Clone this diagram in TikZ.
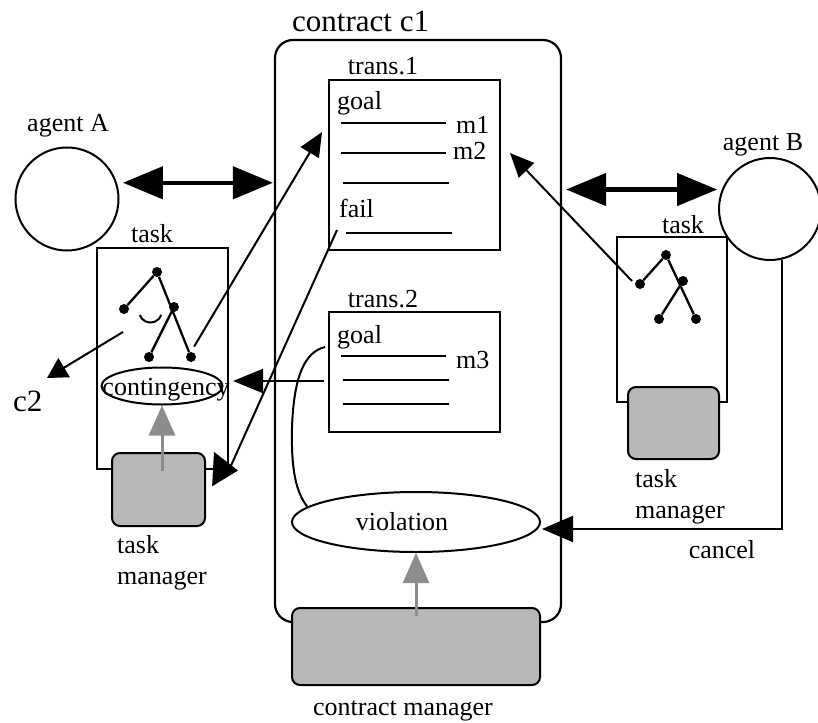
\documentclass[tikz,border=0pt]{standalone}
\usepackage{fontspec}
\setmainfont{Liberation Serif}
\usetikzlibrary{arrows.meta,shapes.geometric}

\begin{document}
\begin{tikzpicture}[x=1pt,y=-1pt,
  lbl/.style={inner sep=0pt,font=\fontsize{26}{31}\selectfont},
  big/.style={inner sep=0pt,font=\fontsize{31}{36}\selectfont},
  box/.style={draw,line width=2pt,inner sep=0pt},
  mgr/.style={draw,line width=2pt,rounded corners=8pt,fill=black!28,inner sep=0pt},
  dot/.style={circle,fill=black,inner sep=0pt,minimum size=10pt},
  twoway/.style={line width=4.5pt,{Triangle[length=40pt,width=32pt]}-{Triangle[length=40pt,width=32pt]}},
  conn/.style={line width=2pt,-{Triangle[length=24pt,width=21pt]}},
  feed/.style={black!45,line width=3pt,-{Triangle[length=30pt,width=26pt]}}]
\useasboundingbox (0,0) rectangle (818,722);
\node[box,line width=2.2pt,rounded corners=18pt,minimum width=286pt,minimum height=582pt] (contract) at (418,331) {};
\node[big,anchor=base west] (c1) at (292,32) {contract c1};
\node[box,minimum width=171pt,minimum height=170pt] (trans1) at (414.5,165) {};
\node[lbl,anchor=base] (t1lbl) at (383,75) {trans.1};
\node[lbl,anchor=base west] (goal1) at (337,110) {goal};
\node[lbl,anchor=base west] (m1) at (456,134) {m1};
\node[lbl,anchor=base west] (m2) at (453,160) {m2};
\node[lbl,anchor=base west] (fail) at (339,217) {fail};
\foreach \y in {123,153} \draw[line width=2pt] (341,\y) -- (446,\y);
\draw[line width=2pt] (343,183) -- (449,183);
\draw[line width=2pt] (346,233) -- (452,233);
\node[box,minimum width=171pt,minimum height=120pt] (trans2) at (414.5,372) {};
\node[lbl,anchor=base] (t2lbl) at (383,307) {trans.2};
\node[lbl,anchor=base west] (goal2) at (337,343) {goal};
\node[lbl,anchor=base west] (m3) at (456,368) {m3};
\draw[line width=2pt] (341,356) -- (446,356);
\foreach \y in {380,404} \draw[line width=2pt] (343,\y) -- (449,\y);
\node[box,ellipse,minimum width=248pt,minimum height=60pt] (viol) at (416,522) {};
\node[lbl,anchor=base] (vlbl) at (402,530) {violation};
\node[mgr,minimum width=248pt,minimum height=77pt] (cm) at (416,646.5) {};
\node[lbl,anchor=base] (cmlbl) at (403,715) {contract manager};
\node[box,circle,minimum size=103pt] (agentA) at (67,199) {};
\node[lbl,anchor=base] (albl) at (68,132) {agent A};
\node[box,circle,minimum size=102pt] (agentB) at (770,209) {};
\node[lbl,anchor=base] (blbl) at (763,151) {agent B};
\node[box,minimum width=131pt,minimum height=221pt] (taskA) at (162.5,358.5) {};
\node[lbl,anchor=base] (talbl) at (152,242) {task};
\node[box,minimum width=110pt,minimum height=165pt] (taskB) at (672,319.5) {};
\node[lbl,anchor=base] (tblbl) at (683,233) {task};
\foreach \n/\x/\y in {a1/157/272,a2/124/309,a3/174/307,a4/149/357,a5/191/357,
                      b1/666/255,b2/640/284,b3/683/281,b4/659/319,b5/696/319}
  \node[dot] (\n) at (\x,\y) {};
\draw[line width=2.3pt] (a2) -- (a1) -- (a5) (a3) -- (a4);
\draw[line width=2.3pt] (b2) -- (b1) -- (b5) (b3) -- (b4);
\draw[line width=2pt] (139.7,315) arc[start angle=200,end angle=340,radius=11.5pt];
\node[box,ellipse,minimum width=121pt,minimum height=37pt] (cont) at (162,386) {};
\node[lbl,anchor=base] (clbl) at (166,395) {contingency};
\node[mgr,minimum width=93pt,minimum height=73pt] (tmA) at (158.5,489.5) {};
\node[lbl,anchor=north west,align=left] (tmAlbl) at (117,535) {task\\manager};
\node[mgr,minimum width=91pt,minimum height=72pt] (tmB) at (673.5,423) {};
\node[lbl,anchor=north west,align=left] (tmBlbl) at (635,469) {task\\manager};
\node[lbl,anchor=base] (cancel) at (722,558) {cancel};
\node[big,anchor=base west] (c2) at (13,411) {c2};
\coordinate (t1l) at (322,132);
\coordinate (t1r) at (510,153);
\coordinate (c2s) at (123,332);
\coordinate (c2t) at (47,378);
\coordinate (fs) at (337,230);
\coordinate (ftip) at (238,470.5);
\coordinate (ctip) at (233,381);
\coordinate (vtip) at (542,529);
\coordinate (gc) at (325,347);
\draw[twoway,shorten <=6pt,shorten >=1pt] (agentA.18) -- (agentA.18 -| contract.west);
\draw[twoway,shorten <=4pt,shorten >=4.7pt] (contract.east |- agentB.158) -- (agentB.158);
\draw[conn,shorten <=6pt] (a5.north) -- (t1l);
\draw[conn,shorten <=4pt] (b2.west) -- (t1r);
\draw[conn,-{Triangle[length=20pt,width=22pt]}] (c2s) -- (c2t);
\draw[line width=2pt,-{Triangle[length=25pt,width=34pt]}] (fs) -- (taskA.south east) -- (ftip);
\draw[line width=2pt,shorten <=4pt,-{Triangle[length=30pt,width=24pt]}] (trans2.west |- ctip) -- (ctip);
\draw[line width=2pt,-{Triangle[length=31pt,width=26pt]}] (agentB.-77.5) |- (vtip);
\draw[line width=2pt] (gc) .. controls (305,352) and (294,375) .. (292,427) .. controls (291,470) and (296,492) .. (viol.172);
\draw[feed,shorten <=19pt] (tmA.center -| cont.south) -- (cont.south);
\draw[feed,shorten <=31pt] (cm.center -| viol.south) -- (viol.south);
\end{tikzpicture}
\end{document}
